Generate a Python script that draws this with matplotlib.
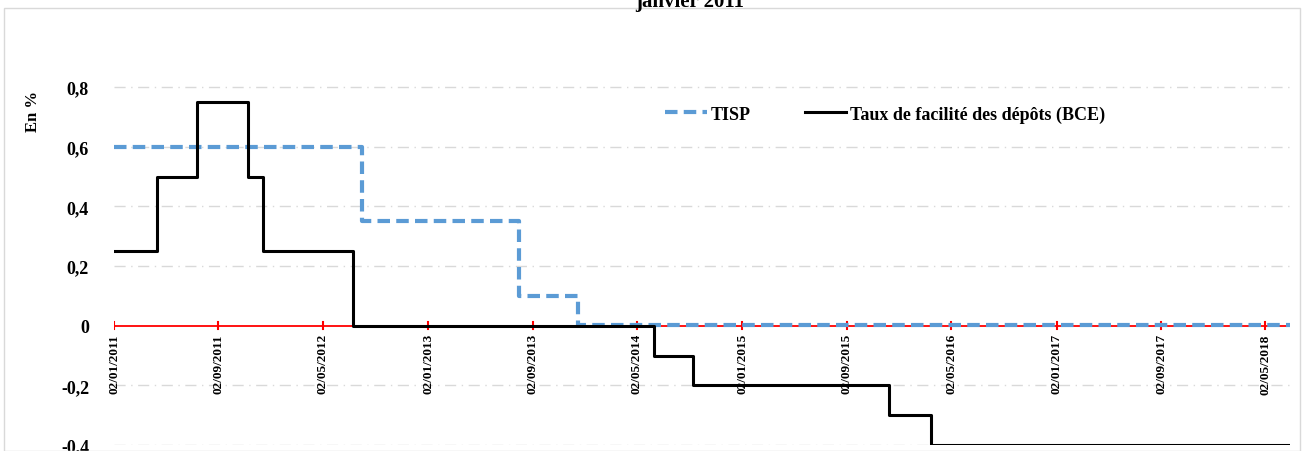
import matplotlib
matplotlib.use("Agg")
import matplotlib.pyplot as plt
import pandas as pd
from matplotlib.patches import Rectangle

plt.rcParams['font.family'] = ['Liberation Serif', 'DejaVu Serif']

start, end = "2011-01-02", "2018-06-29"
bce_dates = ["2011-01-02", "2011-04-13", "2011-07-13", "2011-11-09", "2011-12-14",
             "2012-07-11", "2014-06-11", "2014-09-10", "2015-12-09", "2016-03-16", end]
bce_vals = [0.25, 0.5, 0.75, 0.5, 0.25, 0.0, -0.1, -0.2, -0.3, -0.4, -0.4]
tisp_dates = ["2011-01-02", "2012-08-01", "2013-08-01", "2013-12-15", end]
tisp_vals = [0.6, 0.35, 0.1, 0.002, 0.002]
tick_dates = ["2011-01-02", "2011-09-02", "2012-05-02", "2013-01-02", "2013-09-02",
              "2014-05-02", "2015-01-02", "2015-09-02", "2016-05-02", "2017-01-02",
              "2017-09-02", "2018-05-02"]
yticks = [-0.4, -0.2, 0, 0.2, 0.4, 0.6, 0.8]

fig = plt.figure(figsize=(13.07, 4.52), dpi=100)
fig.patches.append(Rectangle((4/1307, 0), 1296/1307, 1-9/452, transform=fig.transFigure,
                             fill=False, edgecolor='#d9d9d9', lw=1))
ax = fig.add_axes([114/1307, 1-446/452, (1290-114)/1307, (446-28.5)/452])
bd = pd.to_datetime(bce_dates); td = pd.to_datetime(tisp_dates)
ax.set_xlim(pd.Timestamp(start), pd.Timestamp(end))
ax.set_ylim(-0.4, 1.0)
for y in yticks:
    if y != 0:
        ax.axhline(y, color='#d9d9d9', lw=1, ls=(0, (8, 4, 1, 4)), zorder=0)
ax.axhline(0, color='red', lw=1.3, zorder=1)
for t in pd.to_datetime(tick_dates):
    ax.plot([t, t], [-0.012, 0.012], color='red', lw=1.5, zorder=1)
    ax.text(t, -0.025, t.strftime("%d/%m/%Y"), rotation=90, ha='center', va='top',
            fontsize=9.5, fontweight='bold')
ax.step(td, tisp_vals, where='post', color='#5b9bd5', lw=3, ls=(0, (3, 1.5)),
        label='TISP', zorder=3)
ax.step(bd, bce_vals, where='post', color='black', lw=2.2,
        label='Taux de facilité des dépôts (BCE)', zorder=4)
ax.set_xticks([])
ax.set_yticks(yticks)
ax.set_yticklabels([("%g" % v).replace('.', ',') for v in yticks], fontsize=13, fontweight='bold')
ax.tick_params(axis='y', length=0, pad=18)
for s in ax.spines.values():
    s.set_visible(False)
ax.set_ylabel('En %', fontsize=12, fontweight='bold', labelpad=4)
ax.yaxis.set_label_coords(-0.062, 0.80)
leg = ax.legend(loc='center left', bbox_to_anchor=(0.455, 0.793), ncol=2, frameon=False,
                prop={'weight': 'bold', 'size': 13}, handlelength=2.3, columnspacing=3.0,
                handletextpad=0.2)
fig.text(690/1307, 0.995, 'janvier 2011', ha='center', va='center', fontsize=15,
         fontweight='bold')
fig.savefig('out.png', dpi=100)
